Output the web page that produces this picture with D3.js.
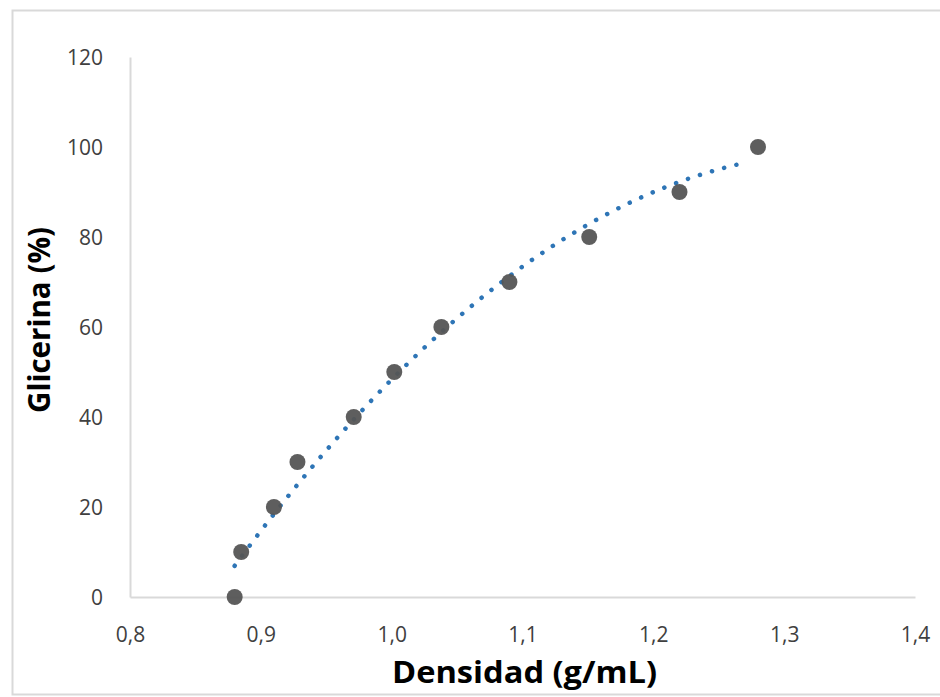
<!DOCTYPE html>
<html>
<head>
<meta charset="utf-8">
<script src="https://cdn.jsdelivr.net/npm/d3@7"></script>
<style>
  body { margin: 0; background: #fff; }
  svg { display: block; }
</style>
</head>
<body>
<div id="chart"></div>
<script>
// data
const density = [0.880, 0.885, 0.910, 0.928, 0.971, 1.002, 1.038, 1.090, 1.151, 1.220, 1.280];
const glycerin = [0, 10, 20, 30, 40, 50, 60, 70, 80, 90, 100];
const xTicks = [0.8, 0.9, 1.0, 1.1, 1.2, 1.3, 1.4];
const yTicks = [0, 20, 40, 60, 80, 100, 120];

const width = 940, height = 697;
const margin = { top: 57, right: 25, bottom: 100, left: 130 };

const svg = d3.select("#chart")
    .append("svg")
    .attr("width", width)
    .attr("height", height);

// outer chart frame
svg.append("rect")
    .attr("x", 12.5).attr("y", 10.5)
    .attr("width", 940).attr("height", 684)
    .attr("fill", "#fff")
    .attr("stroke", "#d9d9d9")
    .attr("stroke-width", 2);

const x = d3.scaleLinear().domain([0.8, 1.4]).range([margin.left, width - margin.right]);
const y = d3.scaleLinear().domain([0, 120]).range([height - margin.bottom, margin.top]);

const fmt = (d) => d3.format(".1f")(d).replace(".", ",");

// x axis
const xAxis = svg.append("g")
    .attr("transform", `translate(0,${y(0)})`)
    .call(d3.axisBottom(x).tickValues(xTicks).tickFormat(fmt).tickSize(0).tickPadding(30));
xAxis.select(".domain").attr("stroke", "#d9d9d9").attr("stroke-width", 2);
xAxis.selectAll("text")
    .attr("fill", "#404040")
    .style("font-family", "'Open Sans', sans-serif")
    .style("font-size", "21px");

// y axis
const yAxis = svg.append("g")
    .attr("transform", `translate(${x(0.8)},0)`)
    .call(d3.axisLeft(y).tickValues(yTicks).tickSize(0).tickPadding(27));
yAxis.select(".domain").attr("stroke", "#d9d9d9").attr("stroke-width", 2);
yAxis.selectAll("text")
    .attr("fill", "#404040")
    .attr("dy", "0.38em")
    .style("font-family", "'Open Sans', sans-serif")
    .style("font-size", "21px");

// quadratic least-squares trend line (like the spreadsheet's polynomial trendline)
function quadFit(xs, ys) {
    const s = [0, 0, 0, 0, 0], t = [0, 0, 0];
    xs.forEach((xv, i) => {
        for (let k = 0; k < 5; k++) s[k] += Math.pow(xv, k);
        for (let k = 0; k < 3; k++) t[k] += ys[i] * Math.pow(xv, k);
    });
    const A = [[s[0], s[1], s[2], t[0]], [s[1], s[2], s[3], t[1]], [s[2], s[3], s[4], t[2]]];
    for (let i = 0; i < 3; i++) {
        for (let j = i + 1; j < 3; j++) {
            const f = A[j][i] / A[i][i];
            for (let k = i; k < 4; k++) A[j][k] -= f * A[i][k];
        }
    }
    const c = [0, 0, 0];
    for (let i = 2; i >= 0; i--) {
        let v = A[i][3];
        for (let k = i + 1; k < 3; k++) v -= A[i][k] * c[k];
        c[i] = v / A[i][i];
    }
    return (xv) => c[0] + c[1] * xv + c[2] * xv * xv;
}
const fit = quadFit(density, glycerin);
const xs = d3.range(d3.min(density), d3.max(density) - 0.006, 0.002);

svg.append("path")
    .datum(xs)
    .attr("fill", "none")
    .attr("stroke", "#2e75b6")
    .attr("stroke-width", 4.5)
    .attr("stroke-linecap", "round")
    .attr("stroke-dasharray", "0.1 12.5")
    .attr("d", d3.line().x((d) => x(d)).y((d) => y(fit(d))));

// points
svg.append("g")
    .selectAll("circle")
    .data(density)
    .enter()
    .append("circle")
    .attr("cx", (d) => x(d))
    .attr("cy", (d, i) => y(glycerin[i]))
    .attr("r", 8)
    .attr("fill", "#555555")
    .attr("fill-opacity", 0.95);

// axis titles
svg.append("text")
    .attr("x", 392).attr("y", 683)
    .attr("textLength", 265)
    .attr("lengthAdjust", "spacingAndGlyphs")
    .style("font-family", "'Open Sans', sans-serif")
    .style("font-size", "30px")
    .style("font-weight", "bold")
    .attr("fill", "#000")
    .text("Densidad (g/mL)");

svg.append("text")
    .attr("transform", "translate(50,413) rotate(-90)")
    .attr("textLength", 186)
    .attr("lengthAdjust", "spacingAndGlyphs")
    .style("font-family", "'Open Sans', sans-serif")
    .style("font-size", "30px")
    .style("font-weight", "bold")
    .attr("fill", "#000")
    .text("Glicerina (%)");
</script>
</body>
</html>
